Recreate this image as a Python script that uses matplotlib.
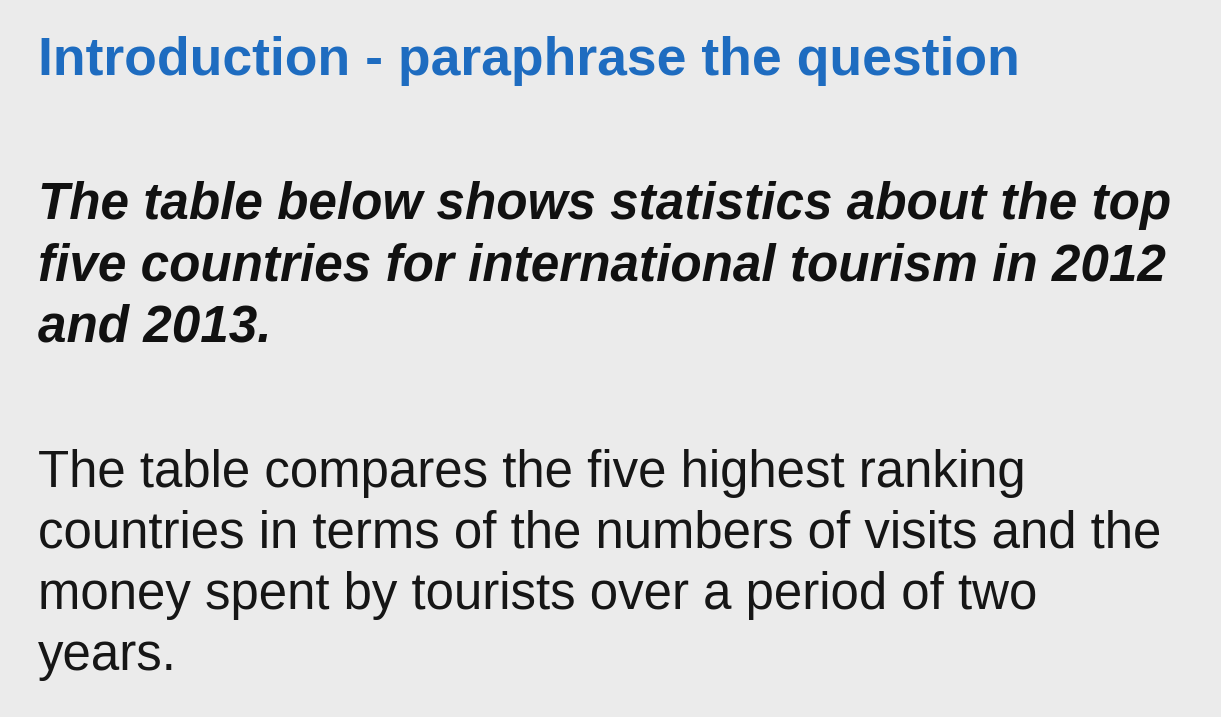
import matplotlib
matplotlib.use("Agg")
import matplotlib.pyplot as plt

W, H = 1221, 717
title = "Introduction - paraphrase the question"
question_lines = [
    "The table below shows statistics about the top",
    "five countries for international tourism in 2012",
    "and 2013.",
]
answer_lines = [
    "The table compares the five highest ranking",
    "countries in terms of the numbers of visits and the",
    "money spent by tourists over a period of two",
    "years.",
]

fig = plt.figure(figsize=(W / 100, H / 100), dpi=100)
fig.patch.set_facecolor("#EBEBEB")
fam = ["Liberation Sans", "DejaVu Sans"]

def put(x, y, s, **kw):
    fig.text(x / W, 1 - y / H, s, va="baseline", ha="left", family=fam, **kw)

put(38, 75, title, fontsize=38.5, fontweight="bold", color="#1E6CC0")
for i, s in enumerate(question_lines):
    put(38, 219 + i * 61.5, s, fontsize=36.9, fontweight="bold", style="italic", color="#111111")
for i, s in enumerate(answer_lines):
    put(38, 487 + i * 61, s, fontsize=36.7, color="#161616")

fig.savefig("out.png", dpi=100, facecolor=fig.get_facecolor())
